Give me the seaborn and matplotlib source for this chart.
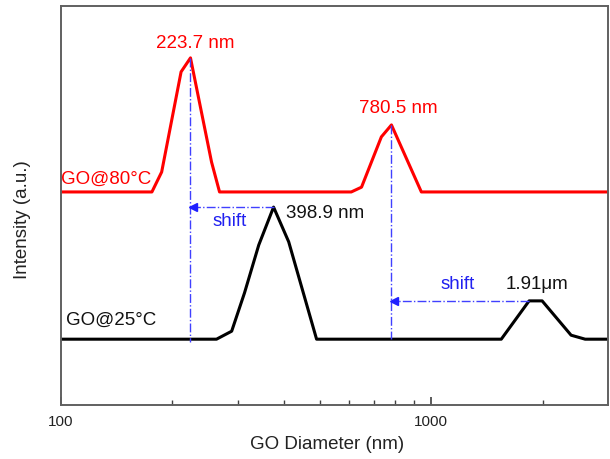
import numpy as np
import pandas as pd
import matplotlib
matplotlib.use("Agg")
import matplotlib.pyplot as plt
import seaborn as sns
from matplotlib.ticker import FixedLocator, NullFormatter, FuncFormatter

# ---- data ----
red_x = [100, 176, 187, 211, 223.7, 255, 268, 608, 648, 733, 780.5, 940, 3000]
red_y = [53.4, 53.4, 58.4, 83.5, 87.0, 60.9, 53.4, 53.4, 54.6, 67.2, 70.2, 53.4, 53.4]
black_x = [100, 263, 289, 313, 342, 375, 412, 490, 1545, 1837, 1992, 2385, 2603, 3000]
black_y = [16.5, 16.5, 18.5, 28.1, 40.1, 49.6, 40.9, 16.5, 16.5, 26.1, 26.1, 17.5, 16.5, 16.5]
series_names = ["GO@80\u00b0C", "GO@25\u00b0C"]
peak_labels = ["223.7 nm", "780.5 nm", "398.9 nm", "1.91\u03bcm"]
x_tick_values = [100, 1000]
x_tick_labels = ["100", "1000"]
minor_tick_values = [200, 300, 400, 500, 600, 700, 800, 900, 2000]

df = pd.DataFrame({
    "x": red_x + black_x,
    "y": red_y + black_y,
    "series": [series_names[0]] * len(red_x) + [series_names[1]] * len(black_x),
})

sns.set_style("white")
plt.rcParams["font.family"] = ["Liberation Sans", "DejaVu Sans"]

fig = plt.figure(figsize=(6.1, 4.59), dpi=100)
ax = fig.add_axes([0.1, 0.1176, 0.8967, 0.8693])

sns.lineplot(data=df, x="x", y="y", hue="series", sort=False,
             palette={series_names[0]: "#ff0000", series_names[1]: "#000000"},
             linewidth=2.2, legend=False, ax=ax)

ax.set_xscale("log")
ax.set_xlim(100, 3000)
ax.set_ylim(0, 100)

blue_line = "#4040ff"
blue_text = "#2020f0"
# vertical guide lines
ax.plot([red_x[4], red_x[4]], [red_y[4], 15.8], color=blue_line, lw=1.0, ls="-.")
ax.plot([red_x[10], red_x[10]], [red_y[10], 16.5], color=blue_line, lw=1.0, ls="-.")
# horizontal shift arrows
ax.plot([black_x[5], red_x[4]], [black_y[5], black_y[5]], color=blue_line, lw=1.0, ls="-.")
ax.plot([black_x[9], red_x[10]], [black_y[9], black_y[9]], color=blue_line, lw=1.0, ls="-.")
for xs, ys in [(red_x[4] * 1.018, black_y[5]), (red_x[10] * 1.018, black_y[9])]:
    ax.plot([xs], [ys], marker="<", color="#2020ff", markersize=5.5, mec="#2020ff")

fs = 13.5
ax.text(229.8, 90.5, peak_labels[0], color="#ff0000", fontsize=fs, ha="center", va="center")
ax.text(815, 74.2, peak_labels[1], color="#ff0000", fontsize=fs, ha="center", va="center")
ax.text(406, 48.1, peak_labels[2], color="#111111", fontsize=fs, ha="left", va="center")
ax.text(1592, 30.1, peak_labels[3], color="#111111", fontsize=fs, ha="left", va="center")
ax.text(257, 45.9, "shift", color=blue_text, fontsize=fs, ha="left", va="center")
ax.text(1057, 30.1, "shift", color=blue_text, fontsize=fs, ha="left", va="center")
ax.text(100.3, 56.6, series_names[0], color="#ff0000", fontsize=fs, ha="left", va="center")
ax.text(103.1, 21.3, series_names[1], color="#111111", fontsize=fs, ha="left", va="center")

# axes styling
for sp in ax.spines.values():
    sp.set_visible(True)
    sp.set_color("#606060")
    sp.set_linewidth(1.4)

ax.xaxis.set_major_locator(FixedLocator(x_tick_values))
ax.xaxis.set_major_formatter(FuncFormatter(lambda v, p: x_tick_labels[x_tick_values.index(round(v))] if round(v) in x_tick_values else ""))
ax.xaxis.set_minor_locator(FixedLocator(minor_tick_values))
ax.xaxis.set_minor_formatter(NullFormatter())
ax.tick_params(axis="x", which="major", direction="in", length=6, width=1.2,
               color="#404040", labelsize=11, labelcolor="#222222", pad=7, bottom=True, top=False)
ax.tick_params(axis="x", which="minor", direction="in", length=3.5, width=1.0,
               color="#404040", bottom=True, top=False)
ax.set_yticks([])

ax.set_xlabel("GO Diameter (nm)", fontsize=fs, color="#222222")
ax.set_ylabel("Intensity (a.u.)", fontsize=fs, color="#222222")
ax.xaxis.set_label_coords(0.486, -0.078)
ax.yaxis.set_label_coords(-0.054, 0.464)

fig.savefig("out.png", dpi=100)
